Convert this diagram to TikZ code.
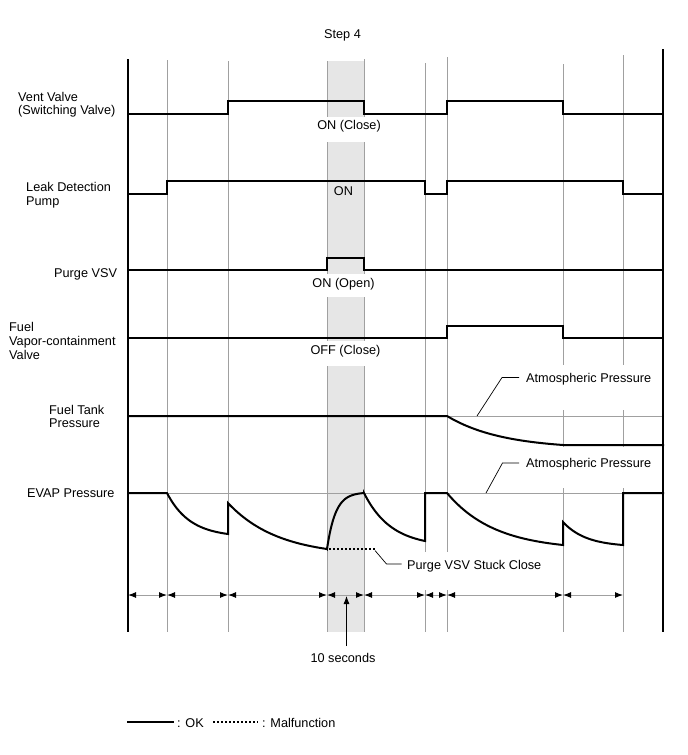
\documentclass[tikz,border=0pt]{standalone}
\usepackage{fontspec}
\setmainfont{Liberation Sans}
\usetikzlibrary{arrows.meta}
\definecolor{gridgray}{HTML}{A0A0A0}
\definecolor{shadegray}{HTML}{E6E6E6}
\begin{document}
\begin{tikzpicture}[x=1pt,y=-1pt,
  sig/.style={line width=2pt, line join=miter, line cap=rect},
  gridl/.style={draw=gridgray, line width=1pt},
  frame/.style={line width=2pt},
  lbl/.style={inner sep=0pt, anchor=base west, font=\fontsize{12.7}{14}\selectfont},
  clbl/.style={inner sep=0pt, anchor=base, font=\fontsize{12.7}{14}\selectfont},
  leader/.style={line width=0.7pt},
  dim/.style={draw=gridgray, line width=1pt,
    arrows={Latex[length=8pt,width=6pt,color=black]-Latex[length=8pt,width=6pt,color=black]}},
  malf/.style={line width=2pt, dash pattern=on 2pt off 2pt}]
\useasboundingbox (0,0) rectangle (688,755);

% shaded step 4 band
\fill[shadegray] (327,61) rectangle (364,632);

% grid verticals
\foreach \xx/\yt in {167/60,228/61,327/61,364/59,425/63,447/57,563/64,623/55}
  \draw[gridl] (\xx,\yt) -- (\xx,632);
% atmospheric reference lines
\draw[gridl] (447,416) -- (663,416);
\draw[gridl] (128,493) -- (663,493);
% dimension line
\foreach \a/\b in {128/167,167/228,228/327,327/364,364/425,425/447,447/563,563/623}
  \draw[dim] (\a,595) -- (\b,595);

% white gaps behind labels
\fill[white] (320,117) rectangle (371,142);
\fill[white] (320,274) rectangle (371,297);
\fill[white] (320,341) rectangle (371,366);
\fill[white] (522,365) rectangle (657,410);
\fill[white] (522,447) rectangle (657,488);
\fill[white] (403,552) rectangle (545,590);

% frame
\draw[frame] (128,59) -- (128,632);
\draw[frame] (663,49) -- (663,632);

% signals
\draw[sig] (128,114) -- (228,114) -- (228,101) -- (364,101) -- (364,114) -- (447,114) -- (447,101) -- (563,101) -- (563,114) -- (663,114);
\draw[sig] (128,194) -- (167,194) -- (167,181) -- (425,181) -- (425,194) -- (447,194) -- (447,181) -- (623,181) -- (623,194) -- (663,194);
\draw[sig] (128,270) -- (327,270) -- (327,258) -- (364,258) -- (364,270) -- (663,270);
\draw[sig] (128,338) -- (447,338) -- (447,326) -- (563,326) -- (563,338) -- (663,338);
\draw[sig] (128,416) -- (447,416)
  -- plot[domain=447:563,samples=50,variable=\t] (\t,{416+29*(1-exp(-(\t-447)/55))/(1-exp(-116/55))})
  -- (663,445);
\draw[sig] (128,493) -- (167,493)
  -- plot[domain=167:228,samples=40,variable=\t] (\t,{493+41*(1-exp(-(\t-167)/23))/(1-exp(-61/23))})
  -- (228,503)
  -- plot[domain=228:327,samples=50,variable=\t] (\t,{503+46*(1-exp(-(\t-228)/50))/(1-exp(-99/50))})
  -- plot[domain=327:364,samples=40,variable=\t] (\t,{549-56*(1-exp(-(\t-327)/8.5))/(1-exp(-37/8.5))})
  -- plot[domain=364:425,samples=40,variable=\t] (\t,{493+48*(1-exp(-(\t-364)/27))/(1-exp(-61/27))})
  -- (425,493) -- (447,493)
  -- plot[domain=447:563,samples=50,variable=\t] (\t,{493+52*(1-exp(-(\t-447)/48))/(1-exp(-116/48))})
  -- (563,522)
  -- plot[domain=563:623,samples=40,variable=\t] (\t,{522+23*(1-exp(-(\t-563)/23))/(1-exp(-60/23))})
  -- (623,493) -- (663,493);
\draw[malf] (329,549) -- (376,549);

% left labels
\node[lbl] (vv1) at (18,101.5) {Vent Valve};
\node[lbl] (vv2) at (18,114.5) {(Switching Valve)};
\node[lbl] (ld1) at (26,191.5) {Leak Detection};
\node[lbl] (ld2) at (26,205) {Pump};
\node[lbl] (pv) at (54,277.5) {Purge VSV};
\node[lbl] (fv1) at (9,331.5) {Fuel};
\node[lbl] (fv2) at (9,345.5) {Vapor-containment};
\node[lbl] (fv3) at (9,359.5) {Valve};
\node[lbl] (ft1) at (49,414) {Fuel Tank};
\node[lbl] (ft2) at (49,427.5) {Pressure};
\node[lbl] (ev) at (27,497) {EVAP Pressure};

% state labels
\node[clbl] (step) at (342.5,38) {Step 4};
\node[clbl] (onc) at (349,129) {ON (Close)};
\node[clbl] (on) at (343.5,195) {ON};
\node[clbl] (ono) at (343.5,287.5) {ON (Open)};
\node[clbl] (offc) at (345.5,354.5) {OFF (Close)};

% atmospheric pressure callouts
\node[lbl] (atm1) at (526,382.5) {Atmospheric Pressure};
\coordinate (a1k) at (502,377.5);
\coordinate (a1e) at (519,377.5);
\coordinate (a1p) at (477,416);
\draw[leader] (a1p) -- (a1k) -- (a1e);
\node[lbl] (atm2) at (526,467) {Atmospheric Pressure};
\coordinate (a2k) at (502.5,463);
\coordinate (a2e) at (519,463);
\coordinate (a2p) at (486,493);
\draw[leader] (a2p) -- (a2k) -- (a2e);

% malfunction callout
\node[lbl] (stuck) at (407,569) {Purge VSV Stuck Close};
\coordinate (sk1) at (375,550.5);
\coordinate (sk2) at (386.5,564);
\coordinate (sk3) at (401.5,564);
\draw[leader] (sk1) -- (sk2) -- (sk3);

% 10 seconds
\node[clbl] (tens) at (343,662.5) {10 seconds};
\coordinate (tenA) at (346.5,646);
\coordinate (tenB) at (346.5,596);
\draw[line width=0.8pt, -{Latex[length=8pt,width=6pt]}] (tenA) -- (tenB);

% legend
\coordinate (lg1) at (127,722);
\coordinate (lg2) at (174,722);
\draw[line width=2.5pt] (lg1) -- (lg2);
\node[lbl] (ok) at (177,727) {: OK};
\coordinate (lg3) at (213,722);
\coordinate (lg4) at (258,722);
\draw[malf] (lg3) -- (lg4);
\node[lbl] (mf) at (262,727) {: Malfunction};
\end{tikzpicture}
\end{document}
